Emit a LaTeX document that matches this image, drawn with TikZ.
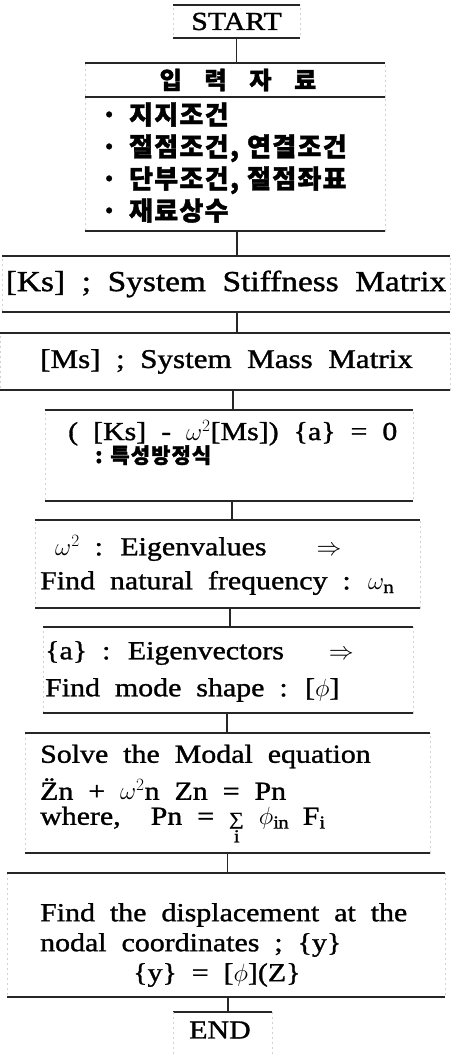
\documentclass[tikz,border=0pt]{standalone}
\usepackage{fontspec}
\setmainfont{Liberation Serif}[FakeStretch=1.15, FakeBold=1.2, WordSpace=2.0]
\newfontfamily\krfont{Noto Sans CJK KR}[LetterSpace=5, FakeBold=1.5]
\usetikzlibrary{positioning}

\begin{document}
\begin{tikzpicture}[
  x=1pt, y=-1pt,
  frame/.style={draw=gray!35, dash pattern=on 2pt off 3pt, line width=0.5pt, rectangle,
    inner sep=0pt, outer sep=0pt},
  side/.style={gray!35, dash pattern=on 2pt off 3pt, line width=0.5pt},
  rule/.style={line width=1.7pt, black!85},
  link/.style={line width=1.7pt, black!85},
  lbl/.style={inner sep=0pt, font=\fontsize{26}{34}\selectfont, align=left},
  kr/.style={inner sep=0pt, font=\fontsize{26}{32}\selectfont\krfont\bfseries, align=left}
]
  \useasboundingbox (0,0) rectangle (451,1056);

  % frames
  \node[frame, minimum width=127pt, minimum height=33pt] (start) at (236.5,21.5) {};
  \node[frame, minimum width=300pt, minimum height=34pt, below=25pt of start, xshift=-1.5pt] (inhead) {};
  \node[frame, minimum width=300pt, minimum height=134pt, below=0pt of inhead] (inbody) {};
  \node[frame, minimum width=448pt, minimum height=56pt, below=25pt of inbody, xshift=-9pt] (ks) {};
  \node[frame, minimum width=450pt, minimum height=57pt, below=21pt of ks, xshift=-1pt] (ms) {};
  \node[frame, minimum width=368pt, minimum height=91pt, below=20pt of ms, xshift=4pt] (eq) {};
  \node[frame, minimum width=385pt, minimum height=88pt, below=19pt of eq, xshift=-1.5pt] (ev) {};
  \node[frame, minimum width=370pt, minimum height=86pt, below=19pt of ev, xshift=0.5pt] (evec) {};
  \node[frame, minimum width=405pt, minimum height=120pt, below=20pt of evec, xshift=-0.5pt] (modal) {};
  \node[frame, minimum width=438pt, minimum height=124pt, below=20pt of modal, xshift=-1.5pt] (disp) {};
  \node[frame, draw=none, minimum width=99pt, minimum height=43pt, below=15pt of disp, xshift=-3.5pt] (end) {};

  \foreach \n in {start,inhead,inbody,ks,ms,eq,ev,evec,modal,disp}
    \draw[rule] (\n.north west) -- (\n.north east) (\n.south west) -- (\n.south east);
  \draw[rule] (end.north west) -- (end.north east);
  \draw[side] (end.north west) -- (end.south west) (end.north east) -- (end.south east);

  % connectors
  \foreach \a/\b/\s in {start/inhead/0, inbody/ks/2, ks/ms/11, ms/eq/8, eq/ev/3,
      ev/evec/2.5, evec/modal/-1, modal/disp/0, disp/end/2}
    \draw[link] ([xshift=\s pt]\a.south) -- ([xshift=\s pt]\a.south |- \b.north);

  % texts
  \node[lbl] (startt) at (start) {START};
  \node[kr, font=\fontsize{24}{32}\selectfont\krfont\bfseries] (inheadt) at ([xshift=3pt]inhead)
    {입\hspace{0.95em}력\hspace{0.95em}자\hspace{0.95em}료};
  \node[kr, anchor=west] (inbodyt) at ([xshift=16pt, yshift=1.5pt]inbody.west)
    {·\hspace{12pt}지지조건\\ ·\hspace{12pt}절점조건,\hspace{8pt}연결조건\\
     ·\hspace{12pt}단부조건,\hspace{8pt}절점좌표\\ ·\hspace{12pt}재료상수};
  \node[lbl, font=\fontsize{29}{34}\selectfont] (kst) at (ks) {[Ks] ; System Stiffness Matrix};
  \node[lbl, font=\fontsize{27}{34}\selectfont] (mst) at ([xshift=1.5pt]ms) {[Ms] ; System Mass Matrix};
  \node[lbl, font=\fontsize{26}{26}\selectfont, anchor=west] (eqt) at ([xshift=23pt, yshift=13pt]eq.west)
    {( [Ks] - $\omega^2$[Ms]) \{a\} = 0\\[-3pt]
     \hspace{27pt}{\krfont\bfseries\fontsize{21}{26}\selectfont : 특성방정식}};
  \node[lbl, anchor=west] (evt) at ([xshift=5pt, yshift=-1pt]ev.west)
    {\hspace{15pt}$\omega^{2}$ : Eigenvalues\hspace{50pt}$\Rightarrow$\\
     Find natural frequency : $\omega_{\mathrm{n}}$};
  \node[lbl, anchor=west] (evect) at ([xshift=2pt, yshift=-1.5pt]evec.west)
    {\{a\} : Eigenvectors\hspace{45pt}$\Rightarrow$\\[3pt]
     Find mode shape : [$\phi$]};
  \node[lbl, anchor=west] (modalt) at ([xshift=15pt, yshift=-1pt]modal.west)
    {Solve the Modal equation\\[3pt]
     \ooalign{Z\cr\hidewidth\raisebox{5pt}{¨}\hidewidth\cr}n + $\omega^2$n Zn = Pn\\[-9pt]
     where,\hspace{30pt}Pn = $\mathop{\hbox{\fontsize{18}{18}\selectfont ∑}}\limits_{\mathrm{i}}$ $\phi_{\mathrm{in}}$ F$_{\mathrm{i}}$};
  \node[lbl, anchor=west] (dispt) at ([xshift=33pt, yshift=-10pt]disp.west)
    {Find the displacement at the\\[-4pt]
     nodal coordinates ; \{y\}\\[-4pt]
     \hspace{93pt}\{y\} = [$\phi$](Z\}};
  \node[lbl] (endt) at ([xshift=-2.5pt, yshift=3.5pt]end) {END};
\end{tikzpicture}
\end{document}
